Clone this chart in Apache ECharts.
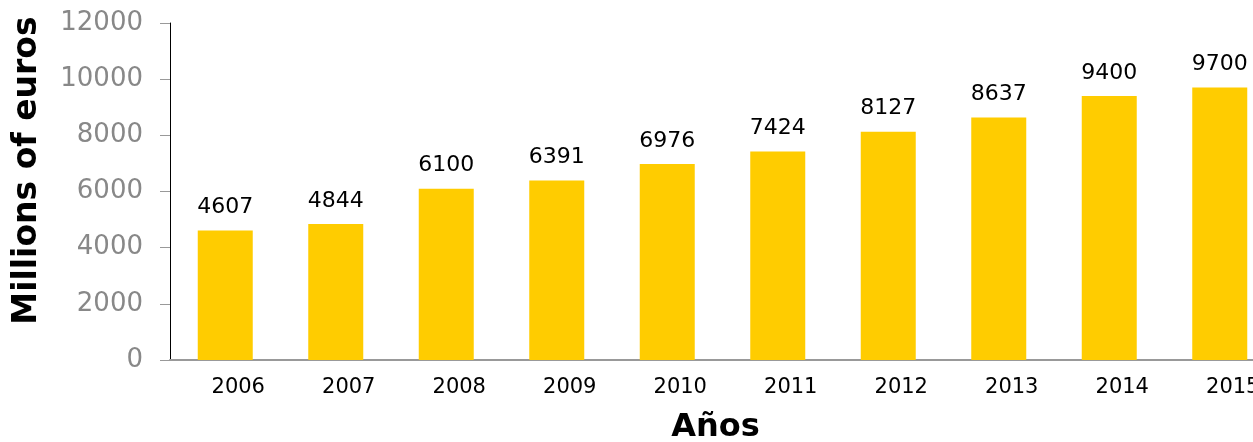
<!DOCTYPE html>
<html>
<head>
<meta charset="utf-8">
<script src="https://cdn.jsdelivr.net/npm/echarts@6/dist/echarts.min.js"></script>
<style>html,body{margin:0;padding:0;background:#fff}#c{width:1253px;height:442px}</style>
</head>
<body>
<div id="c"></div>
<script>
var years = ['2006','2007','2008','2009','2010','2011','2012','2013','2014','2015'];
var values = [4607, 4844, 6100, 6391, 6976, 7424, 8127, 8637, 9400, 9700];
var yTicks = [0, 2000, 4000, 6000, 8000, 10000, 12000];

var chart = echarts.init(document.getElementById('c'));
chart.setOption({
  animation: false,
  textStyle: { fontFamily: 'DejaVu Sans' },
  grid: { left: 170, right: -22, top: 23, bottom: 82, containLabel: false, outerBoundsMode: 'none' },
  xAxis: {
    type: 'category',
    data: years,
    name: 'Años',
    nameLocation: 'middle',
    nameGap: 52,
    nameTextStyle: { fontSize: 32, fontWeight: 'bold', color: '#000', fontFamily: 'DejaVu Sans', padding: [0, 14, 0, 0] },
    axisLine: { lineStyle: { color: '#999', width: 2 } },
    axisTick: { show: false },
    axisLabel: { fontSize: 21, color: '#000', margin: 17, padding: [0, 0, 0, 26], fontFamily: 'DejaVu Sans' }
  },
  yAxis: {
    type: 'value',
    min: yTicks[0],
    max: yTicks[yTicks.length - 1],
    interval: 2000,
    name: 'Millions of euros',
    nameLocation: 'middle',
    nameGap: 126,
    nameTextStyle: { fontSize: 33, fontWeight: 'bold', color: '#000', fontFamily: 'DejaVu Sans', padding: [0, 0, 0, 42] },
    axisLine: { show: true, lineStyle: { color: '#000', width: 1 } },
    axisTick: { show: true, length: 10, lineStyle: { color: '#999' } },
    splitLine: { show: false },
    axisLabel: { fontSize: 26, color: '#888', margin: 27, fontFamily: 'DejaVu Sans', formatter: function (v) { return String(v); } }
  },
  series: [{
    type: 'bar',
    data: values,
    barWidth: 55,
    itemStyle: { color: '#FFCC00' },
    label: { show: true, position: 'top', distance: 12, fontSize: 22, color: '#000', fontFamily: 'DejaVu Sans' }
  }]
});
</script>
</body>
</html>
